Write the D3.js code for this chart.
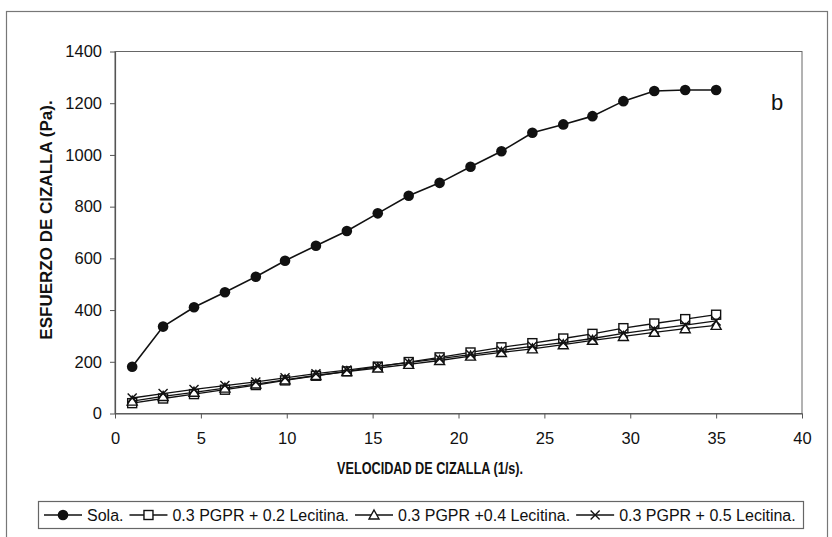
<!DOCTYPE html>
<html>
<head>
<meta charset="utf-8">
<script src="https://cdn.jsdelivr.net/npm/d3@7"></script>
<style>
  body { margin: 0; background: #fff; }
  svg { display: block; }
  text { font-family: "Liberation Sans", Arial, sans-serif; fill: #111; }
</style>
</head>
<body>
<svg id="chart" width="832" height="537"></svg>
<script>
// Shear rate (1/s) at each measurement
const shearRate = [1.0, 2.8, 4.6, 6.4, 8.2, 9.9, 11.7, 13.5, 15.3, 17.1, 18.9, 20.7, 22.5, 24.3, 26.1, 27.8, 29.6, 31.4, 33.2, 35.0];

// Shear stress (Pa) for each formulation
const sola   = [181, 336, 411, 469, 529, 591, 649, 706, 774, 842, 892, 954, 1014, 1086, 1118, 1150, 1208, 1247, 1251, 1251];
const pgpr02 = [40, 58, 75, 92, 110, 128, 146, 163, 181, 199, 217, 236, 256, 272, 290, 308, 330, 348, 365, 382];
const pgpr04 = [48, 66, 82, 98, 114, 130, 147, 162, 176, 190, 205, 222, 236, 250, 266, 283, 298, 314, 328, 341];
const pgpr05 = [60, 77, 93, 108, 122, 138, 154, 168, 183, 197, 212, 228, 244, 260, 274, 290, 310, 326, 342, 358];

const seriesNames = ["Sola.", "0.3 PGPR + 0.2 Lecitina.", "0.3 PGPR +0.4 Lecitina.", "0.3 PGPR + 0.5 Lecitina."];
const markerKinds = ["circle", "square", "triangle", "cross"];

const xTicks = [0, 5, 10, 15, 20, 25, 30, 35, 40];
const yTicks = [0, 200, 400, 600, 800, 1000, 1200, 1400];

const xTitle = "VELOCIDAD DE CIZALLA (1/s).";
const yTitle = "ESFUERZO DE CIZALLA (Pa).";
const panelTag = "b";

const svg = d3.select("#chart");
const plot = { left: 115, right: 802, top: 51.5, bottom: 413.5 };

const x = d3.scaleLinear().domain([0, 40]).range([plot.left, plot.right]);
const y = d3.scaleLinear().domain([0, 1400]).range([plot.bottom, plot.top]);

// Outer chart frame
svg.append("rect")
  .attr("x", 6.5).attr("y", 11.5).attr("width", 821).attr("height", 540)
  .attr("fill", "none").attr("stroke", "#777").attr("stroke-width", 1.2);

// Plot area border
svg.append("rect")
  .attr("x", plot.left).attr("y", plot.top)
  .attr("width", plot.right - plot.left).attr("height", plot.bottom - plot.top)
  .attr("fill", "none").attr("stroke", "#666").attr("stroke-width", 1);

// Axes
const xAxis = svg.append("g")
  .attr("transform", `translate(0,${plot.bottom})`)
  .call(d3.axisBottom(x).tickValues(xTicks).tickFormat(d3.format("d"))
    .tickSize(5).tickSizeOuter(0).tickPadding(14));
const yAxis = svg.append("g")
  .attr("transform", `translate(${plot.left},0)`)
  .call(d3.axisLeft(y).tickValues(yTicks).tickFormat(d3.format("d"))
    .tickSize(5).tickSizeOuter(0).tickPadding(8));

[xAxis, yAxis].forEach(g => {
  g.select(".domain").attr("stroke", "#555").attr("stroke-width", 1.2);
  g.selectAll(".tick line").attr("stroke", "#555").attr("stroke-width", 1);
  g.selectAll(".tick text").style("font-size", "16.5px").attr("fill", "#111");
});

// Axis titles (the horizontal one is set in a condensed width)
svg.append("text")
  .attr("x", 337).attr("y", 474)
  .attr("textLength", 186).attr("lengthAdjust", "spacingAndGlyphs")
  .style("font-size", "16px").style("font-weight", "bold")
  .text(xTitle);
svg.append("text")
  .attr("transform", "translate(52,220) rotate(-90)")
  .attr("text-anchor", "middle")
  .style("font-size", "17px").style("font-weight", "bold")
  .text(yTitle);

// Panel tag
svg.append("text")
  .attr("x", 777).attr("y", 110)
  .attr("text-anchor", "middle")
  .style("font-size", "22px")
  .text(panelTag);

// Marker drawing
function drawMarker(g, kind, cx, cy) {
  if (kind === "circle") {
    g.append("circle").attr("cx", cx).attr("cy", cy).attr("r", 5.3).attr("fill", "#111");
  } else if (kind === "square") {
    g.append("rect").attr("x", cx - 4.5).attr("y", cy - 4.5).attr("width", 9).attr("height", 9)
      .attr("fill", "#fff").attr("stroke", "#111").attr("stroke-width", 1.4);
  } else if (kind === "triangle") {
    g.append("path").attr("d", `M${cx},${cy - 5}L${cx + 5},${cy + 4}L${cx - 5},${cy + 4}Z`)
      .attr("fill", "#fff").attr("stroke", "#111").attr("stroke-width", 1.4);
  } else {
    g.append("path").attr("d", `M${cx - 4.5},${cy - 4.5}L${cx + 4.5},${cy + 4.5}M${cx - 4.5},${cy + 4.5}L${cx + 4.5},${cy - 4.5}`)
      .attr("stroke", "#111").attr("stroke-width", 1.4);
  }
}

const seriesValues = [sola, pgpr02, pgpr04, pgpr05];
const line = d3.line().x(d => x(d[0])).y(d => y(d[1]));

seriesValues.forEach((vals, i) => {
  const pts = shearRate.map((r, j) => [r, vals[j]]);
  const g = svg.append("g");
  g.append("path").datum(pts).attr("d", line)
    .attr("fill", "none").attr("stroke", "#111").attr("stroke-width", i === 0 ? 1.6 : 1.3);
  pts.forEach(p => drawMarker(g, markerKinds[i], x(p[0]), y(p[1])));
});

// Legend
const legend = svg.append("g");
legend.append("rect")
  .attr("x", 38.5).attr("y", 501.5).attr("width", 765).attr("height", 27)
  .attr("fill", "#fff").attr("stroke", "#666").attr("stroke-width", 1.2);

const legendY = 515;
let cursor = 44;
seriesNames.forEach((name, i) => {
  const g = legend.append("g");
  g.append("line").attr("x1", cursor).attr("x2", cursor + 38).attr("y1", legendY).attr("y2", legendY)
    .attr("stroke", "#111").attr("stroke-width", 1.4);
  drawMarker(g, markerKinds[i], cursor + 19, legendY);
  const t = g.append("text").attr("x", cursor + 43).attr("y", legendY + 6)
    .style("font-size", "16px").text(name);
  cursor += 43 + t.node().getComputedTextLength() + 6;
});
</script>
</body>
</html>
